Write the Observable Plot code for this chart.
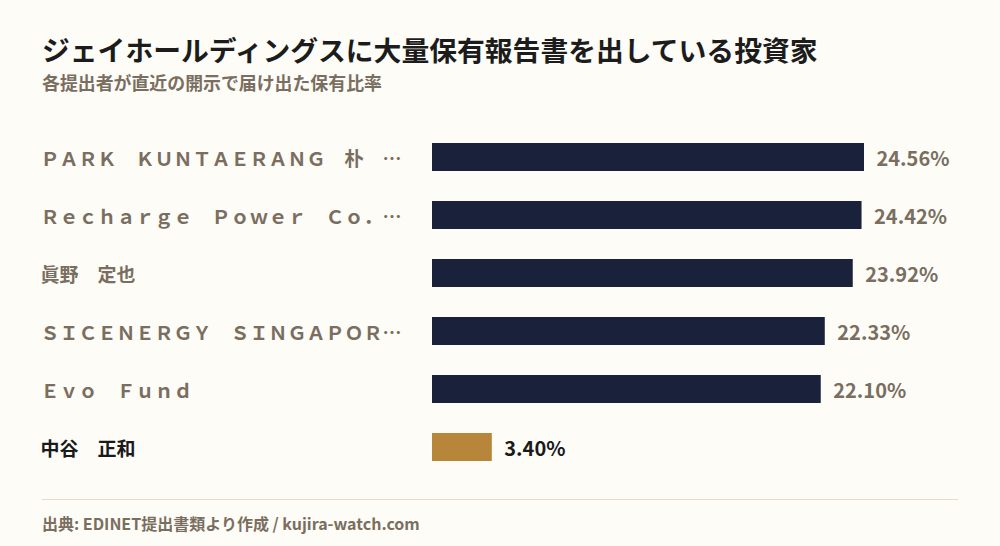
<!DOCTYPE html>
<html lang="ja">
<head>
<meta charset="utf-8">
<script src="https://cdn.jsdelivr.net/npm/d3@7"></script>
<script src="https://cdn.jsdelivr.net/npm/@observablehq/plot@0.6"></script>
<style>
  html, body { margin: 0; padding: 0; background: #fdfcf7; }
  body { width: 1000px; height: 546px; position: relative; overflow: hidden;
         font-family: "Noto Sans CJK JP", "Noto Sans", sans-serif; }
  #title { position: absolute; left: 42px; top: 35px; font-size: 27.8px; line-height: 28px;
           font-weight: 700; color: #1c1c1c; white-space: nowrap; }
  #subtitle { position: absolute; left: 42px; top: 73px; font-size: 17.9px; line-height: 18px;
              font-weight: 700; color: #7a6e60; white-space: nowrap; }
  #chart { position: absolute; left: 0; top: 100px; }
  #rule { position: absolute; left: 42px; width: 916px; top: 499px; height: 0;
          border-top: 1.5px solid #e7dccb; }
  #source { position: absolute; left: 42px; top: 515px; font-size: 16px; line-height: 16px;
            font-weight: 700; color: #7a6e60; white-space: nowrap; }
</style>
</head>
<body>
<div id="title"></div>
<div id="subtitle"></div>
<div id="chart"></div>
<div id="rule"></div>
<div id="source"></div>
<script>
const titleText = "ジェイホールディングスに大量保有報告書を出している投資家";
const subtitleText = "各提出者が直近の開示で届け出た保有比率";
const sourceText = "出典: EDINET提出書類より作成 / kujira-watch.com";

const holders = [
  "ＰＡＲＫ　ＫＵＮＴＡＥＲＡＮＧ　朴　…",
  "Ｒｅｃｈａｒｇｅ　Ｐｏｗｅｒ　Ｃｏ．…",
  "眞野　定也",
  "ＳＩＣＥＮＥＲＧＹ　ＳＩＮＧＡＰＯＲ…",
  "Ｅｖｏ　Ｆｕｎｄ",
  "中谷　正和"
];
const ratios = [24.56, 24.42, 23.92, 22.33, 22.10, 3.40];
const highlighted = [false, false, false, false, false, true];

document.getElementById("title").textContent = titleText;
document.getElementById("subtitle").textContent = subtitleText;
document.getElementById("source").textContent = sourceText;

const rows = holders.map((name, i) => ({name, ratio: ratios[i], hi: highlighted[i]}));

const chart = Plot.plot({
  width: 1000,
  height: 400,
  marginLeft: 432,
  marginRight: 136,
  marginTop: 13,
  marginBottom: 9,
  style: {background: "transparent", fontFamily: "\"Noto Sans CJK JP\", sans-serif"},
  x: {domain: [0, d3.max(ratios)], axis: null},
  y: {domain: holders, padding: 0.517, axis: null},
  marks: [
    Plot.barX(rows, {
      x: "ratio", y: "name",
      fill: d => d.hi ? "#b8863b" : "#19223a"
    }),
    Plot.text(rows, {
      y: "name", text: "name", frameAnchor: "left", textAnchor: "start", dx: -392, dy: 2,
      fontSize: 19, fontWeight: 700,
      fill: d => d.hi ? "#1a1a1a" : "#7a6e60"
    }),
    Plot.text(rows, {
      x: "ratio", y: "name", text: d => d.ratio.toFixed(2) + "%",
      textAnchor: "start", dx: 12, dy: 2,
      fontSize: 20, fontWeight: 600,
      fill: d => d.hi ? "#1a1a1a" : "#7a6e60"
    })
  ]
});
document.getElementById("chart").appendChild(chart);
</script>
</body>
</html>
